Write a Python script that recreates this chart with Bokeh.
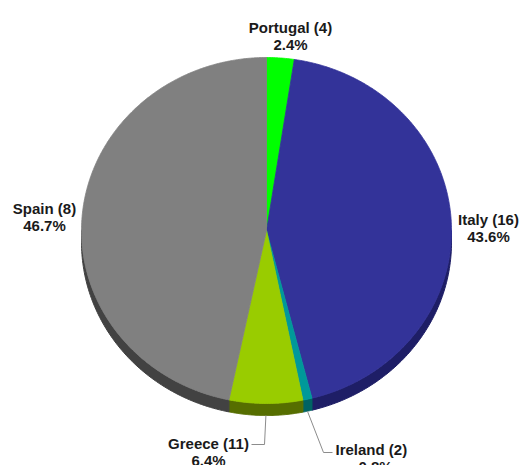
import numpy as np
from bokeh.plotting import figure
from bokeh.models import Range1d
from bokeh.core.properties import value
from bokeh.embed import file_html
from bokeh.resources import INLINE

# ---- data ----
countries = ["Portugal", "Italy", "Ireland", "Greece", "Spain"]
counts = [4, 16, 2, 11, 8]
percents = [2.4, 43.6, 0.8, 6.4, 46.7]

# ---- styles ----
top_colors = ["#00ff00", "#333399", "#009999", "#99cc00", "#808080"]
side_colors = ["#00a000", "#1e1e66", "#006363", "#566e00", "#424242"]
FONT = value("Liberation Sans")

# pie geometry (screen-like coordinates, y grows downward)
CX, CY, RX, RY, DEPTH = 266, 230, 185, 173, 12

# label layout: (x, baseline y, align)
label_layout = {
    "Portugal": (290, 27, "center"),
    "Italy": (488, 219, "center"),
    "Spain": (44, 208, "center"),
    "Greece": (208, 443, "center"),
    "Ireland": (335, 449, "left"),
}
LINE_GAP = 17
# leader line elbows for labels below the pie
leaders = {
    "Greece": [(264, 444), (251, 444)],
    "Ireland": [(323, 452), (332, 452)],
}

W, H = 520, 465
p = figure(width=W, height=H, x_range=Range1d(0, W), y_range=Range1d(H, 0),
           output_backend="svg", toolbar_location=None, min_border=0)
p.axis.visible = False
p.grid.visible = False
p.outline_line_color = None
p.background_fill_color = "white"
p.border_fill_color = "white"

total = sum(percents)
edges = np.concatenate([[0], np.cumsum(percents)]) / total * 360.0


def ex(t):
    return CX + RX * np.sin(np.radians(t))


def ey(t):
    return CY - RY * np.cos(np.radians(t))


# sides (front half only)
sx, sy, sc = [], [], []
for i in range(len(countries)):
    lo, hi = max(edges[i], 90), min(edges[i + 1], 270)
    if hi > lo:
        t = np.linspace(lo, hi, 80)
        xs, ys = ex(t), ey(t)
        sx.append(list(np.concatenate([xs, xs[::-1]])))
        sy.append(list(np.concatenate([ys, ys[::-1] + DEPTH])))
        sc.append(side_colors[i])
p.patches(sx, sy, fill_color=sc, line_color=sc, line_width=1)

# top faces
tx, ty = [], []
for i in range(len(countries)):
    t = np.linspace(edges[i], edges[i + 1], max(int((edges[i + 1] - edges[i]) * 2), 4))
    tx.append([CX] + list(ex(t)))
    ty.append([CY] + list(ey(t)))
p.patches(tx, ty, fill_color=top_colors, line_color=top_colors, line_width=0.8)

# leader lines
for i, c in enumerate(countries):
    if c in leaders:
        mid = (edges[i] + edges[i + 1]) / 2
        xs = [float(ex(mid))] + [pt[0] for pt in leaders[c]]
        ys = [float(ey(mid)) + DEPTH] + [pt[1] for pt in leaders[c]]
        p.line(xs, ys, line_color="#8c8c8c", line_width=1)

# labels
for i, c in enumerate(countries):
    x, y, align = label_layout[c]
    p.text([x], [y], text=[f"{c} ({counts[i]})"], text_font=FONT, text_font_size="15px",
           text_font_style="bold", text_align=align, text_baseline="alphabetic",
           text_color="#1a1a1a")
    x2 = x + 40 if align == "left" else x
    p.text([x2], [y + LINE_GAP], text=[f"{percents[i]}%"], text_font=FONT,
           text_font_size="15px", text_font_style="bold", text_align="center",
           text_baseline="alphabetic", text_color="#1a1a1a")

open("out.html", "w").write(file_html(p, INLINE))
